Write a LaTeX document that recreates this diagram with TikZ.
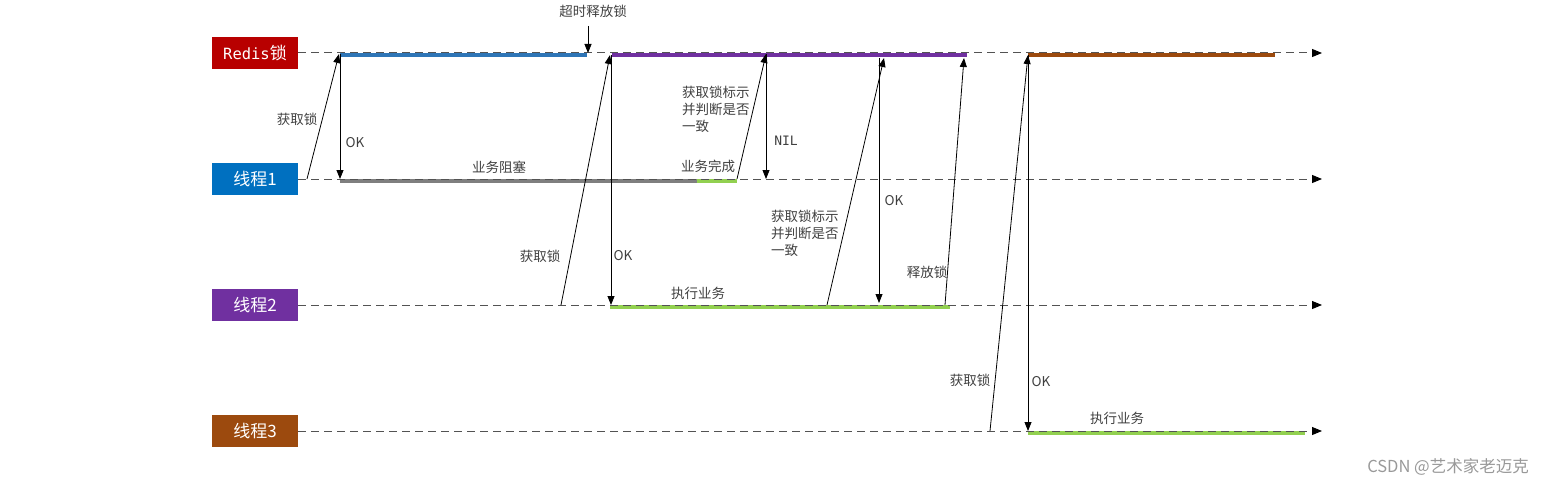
\documentclass[tikz,border=0pt]{standalone}
\usepackage{fontspec}
\setmainfont{Noto Sans CJK SC}
\newfontfamily\monof{DejaVu Sans Mono}
\usetikzlibrary{arrows.meta}
\definecolor{redisred}{HTML}{B80000}
\definecolor{tblue}{HTML}{0070C0}
\definecolor{tpurple}{HTML}{7030A0}
\definecolor{tbrown}{HTML}{9C4A0E}
\definecolor{barblue}{HTML}{2E75B6}
\definecolor{bargreen}{HTML}{92D050}
\definecolor{bargray}{HTML}{7F7F7F}
\definecolor{txt}{HTML}{404040}
\tikzset{
  lane/.style={draw=txt!90, dash pattern=on 8pt off 5pt, line width=1pt, -{Triangle[length=10pt,width=8pt,color=black]}},
  bar/.style={line width=4.5pt},
  msg/.style={draw=black, line width=0.8pt, -{Triangle[length=9pt,width=7pt]}},
  lbl/.style={text=txt, font=\fontsize{13.5}{16.5}\selectfont, inner sep=1pt},
  monolbl/.style={text=txt, font=\monof\fontsize{13}{15}\selectfont, inner sep=1pt},
  thr/.style={minimum width=86pt, minimum height=32pt, text=white, font=\fontsize{17}{18}\selectfont, inner sep=0pt}
}
\begin{document}
\begin{tikzpicture}[x=1pt,y=-1pt]
\useasboundingbox (0,0) rectangle (1542,487);
% thread boxes
\node[thr, fill=redisred] (redis) at (255,53) {{\monof\fontsize{15.5}{17}\selectfont Redis}锁};
\node[thr, fill=tblue] (t1) at (255,179) {线程1};
\node[thr, fill=tpurple] (t2) at (255,305) {线程2};
\node[thr, fill=tbrown] (t3) at (255,431) {线程3};
% lane ends
\coordinate (re) at (1322,53);
\coordinate (t1e) at (1322,179);
\coordinate (t2e) at (1322,305);
\coordinate (t3e) at (1322,431);
% bars
\draw[bar, barblue] (340,55) coordinate (rb1s) -- (587,55) coordinate (rb1e);
\draw[bar, tpurple] (612,55) coordinate (rb2s) -- (967,55) coordinate (rb2e);
\draw[bar, tbrown] (1028,55) coordinate (rb3s) -- (1275,55) coordinate (rb3e);
\draw[bar, bargray] (340,181) coordinate (g1s) -- (697,181) coordinate (g1e);
\draw[bar, bargreen] (697,181) coordinate (gg1s) -- (737,181) coordinate (gg1e);
\draw[bar, bargreen] (610,307) coordinate (g2s) -- (950,307) coordinate (g2e);
\draw[bar, bargreen] (1028,433) coordinate (g3s) -- (1305,433) coordinate (g3e);
% lanes
\draw[lane] (redis.east) -- (re);
\draw[lane] (t1.east) -- (t1e);
\draw[lane] (t2.east) -- (t2e);
\draw[lane] (t3.east) -- (t3e);
% message coordinates
\coordinate (a1s) at (307,179); \coordinate (a1e) at (339,54);
\coordinate (o1s) at (340,54); \coordinate (o1e) at (340,179);
\coordinate (tos) at (588,26); \coordinate (toe) at (588,53);
\coordinate (a2s) at (561,305); \coordinate (a2e) at (610,55);
\coordinate (o2s) at (611,55); \coordinate (o2e) at (611,305);
\coordinate (c1s) at (737,179); \coordinate (c1e) at (766,54);
\coordinate (n1s) at (766,54); \coordinate (n1e) at (766,179);
\coordinate (c2s) at (827,305); \coordinate (c2e) at (884,58);
\coordinate (o3s) at (879,58); \coordinate (o3e) at (879,303);
\coordinate (r2s) at (945,305); \coordinate (r2e) at (964,58);
\coordinate (a3s) at (990,431); \coordinate (a3e) at (1028,55);
\coordinate (o4s) at (1028,55); \coordinate (o4e) at (1028,431);
% messages
\draw[msg] (a1s) -- (a1e);
\draw[msg] (o1s) -- (o1e);
\draw[msg] (tos) -- (toe);
\draw[msg] (a2s) -- (a2e);
\draw[msg] (o2s) -- (o2e);
\draw[msg] (c1s) -- (c1e);
\draw[msg] (n1s) -- (n1e);
\draw[msg] (c2s) -- (c2e);
\draw[msg] (o3s) -- (o3e);
\draw[msg] (r2s) -- (r2e);
\draw[msg] (a3s) -- (a3e);
\draw[msg] (o4s) -- (o4e);
% labels
\node[lbl] (l1) at (297,119) {获取锁};
\node[lbl] (l2) at (355,143) {OK};
\node[lbl] (l3) at (593,11) {超时释放锁};
\node[lbl] (l4) at (499,167) {业务阻塞};
\node[lbl] (l5) at (708,166) {业务完成};
\node[lbl, align=left, anchor=north west, font=\fontsize{13.5}{17}\selectfont] (l6) at (681,85) {获取锁标示\\并判断是否\\一致};
\node[monolbl] (l7) at (786,141) {NIL};
\node[lbl] (l8) at (540,256) {获取锁};
\node[lbl] (l9) at (623,256) {OK};
\node[lbl] (l10) at (698,293) {执行业务};
\node[lbl, align=left, anchor=north west, font=\fontsize{13.5}{17}\selectfont] (l11) at (770,209) {获取锁标示\\并判断是否\\一致};
\node[lbl] (l12) at (894,201) {OK};
\node[lbl] (l13) at (927,272) {释放锁};
\node[lbl] (l14) at (970,380) {获取锁};
\node[lbl] (l15) at (1041,382) {OK};
\node[lbl] (l16) at (1117,418) {执行业务};
\node[text=gray!80, font=\fontsize{16.5}{18}\selectfont, inner sep=0pt, anchor=east] (wm) at (1529,467) {CSDN @艺术家老迈克};
\end{tikzpicture}
\end{document}
